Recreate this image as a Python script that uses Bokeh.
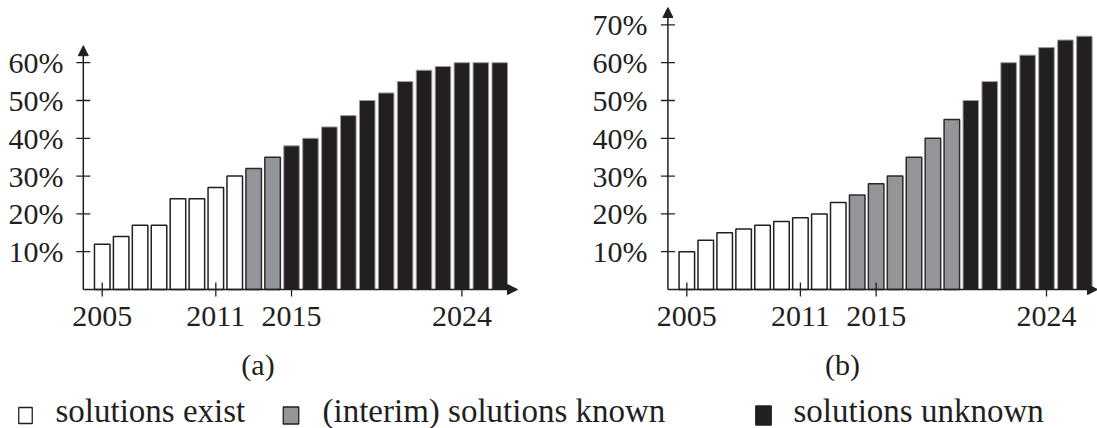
import math
from bokeh.plotting import figure
from bokeh.layouts import column, row
from bokeh.models import Range1d, FixedTicker, Arrow, NormalHead, ColumnDataSource, PrintfTickFormatter
from bokeh.embed import file_html
from bokeh.resources import INLINE
from bokeh.core.properties import value

# ---------------- data ----------------
years = [2005, 2006, 2007, 2008, 2009, 2010, 2011, 2012, 2013, 2014, 2015,
         2016, 2017, 2018, 2019, 2020, 2021, 2022, 2023, 2024, 2025, 2026]
share_a = [12, 14, 17, 17, 24, 24, 27, 30, 32, 35, 38,
           40, 43, 46, 50, 52, 55, 58, 59, 60, 60, 60]
share_b = [10, 13, 15, 16, 17, 18, 19, 20, 23, 25, 28,
           30, 35, 40, 45, 50, 55, 60, 62, 64, 66, 67]
status_a = ["exist", "exist", "exist", "exist", "exist", "exist", "exist", "exist",
            "interim", "interim",
            "unknown", "unknown", "unknown", "unknown", "unknown", "unknown",
            "unknown", "unknown", "unknown", "unknown", "unknown", "unknown"]
status_b = ["exist", "exist", "exist", "exist", "exist", "exist", "exist", "exist", "exist",
            "interim", "interim", "interim", "interim", "interim", "interim",
            "unknown", "unknown", "unknown", "unknown", "unknown", "unknown", "unknown"]
x_ticks = [2005, 2011, 2015, 2024]
y_ticks_a = [10, 20, 30, 40, 50, 60]
y_ticks_b = [10, 20, 30, 40, 50, 60, 70]
statuses = ["exist", "interim", "unknown"]
legend_labels = ["solutions exist", "(interim) solutions known", "solutions unknown"]
captions = ["(a)", "(b)"]

# ---------------- styles / layout ----------------
INK = "#231f20"
FILL = {"exist": "#ffffff", "interim": "#939598", "unknown": "#231f20"}
LINE = {"exist": "#231f20", "interim": "#2b2b2b", "unknown": "#9a9a9a"}
LW = {"exist": 1.5, "interim": 1.5, "unknown": 1.0}
FONT = "Liberation Serif"
PX_PER_PCT = 3.78      # vertical scale
PX_PER_YEAR = 18.93    # horizontal scale
PAD = 8                # frame extends this far beyond the drawn axes
PANEL_H = 344
TOP = 7
AXIS_Y_PX = 289        # pixel row of the x axis
BOTTOM = PANEL_H - (AXIS_Y_PX + PAD)
Y_START = -PAD / PX_PER_PCT
Y_END = (AXIS_Y_PX - TOP) / PX_PER_PCT


def make_panel(vals, stat, left_px, width, axis_x_px, x_tip_px, axis_top_pct, yticks,
               right_px):
    # left_px: page x of figure; axis_x_px: page x of the y axis (year 2004)
    frame_l = int(round(axis_x_px - PAD))
    frame_r = int(right_px)
    x0 = 2004 - (axis_x_px - frame_l) / PX_PER_YEAR
    x1 = 2004 + (frame_r - axis_x_px) / PX_PER_YEAR
    x_tip = 2004 + (x_tip_px - axis_x_px) / PX_PER_YEAR
    p = figure(width=width, height=PANEL_H, x_range=Range1d(x0, x1),
               y_range=Range1d(Y_START, Y_END), output_backend="svg",
               toolbar_location=None, min_border_left=frame_l - left_px,
               min_border_right=left_px + width - frame_r, min_border_top=TOP,
               min_border_bottom=BOTTOM)
    p.outline_line_color = None
    p.xgrid.visible = False
    p.ygrid.visible = False
    p.background_fill_color = None
    src = ColumnDataSource(dict(
        x=years, top=vals,
        fill=[FILL[s] for s in stat],
        line=[LINE[s] for s in stat],
        lw=[LW[s] for s in stat]))
    p.vbar(x="x", top="top", width=0.82, bottom=0, source=src,
           fill_color="fill", line_color="line", line_width="lw")
    for ax in (p.xaxis[0], p.yaxis[0]):
        ax.axis_line_color = None
        ax.major_tick_line_color = None
        ax.major_tick_in = 0
        ax.major_tick_out = 0
        ax.minor_tick_line_color = None
        ax.major_label_text_font = FONT
        ax.major_label_text_font_size = "30px"
        ax.major_label_text_color = INK
    p.xaxis.ticker = FixedTicker(ticks=x_ticks)
    p.xaxis.major_label_standoff = 9
    p.yaxis.ticker = FixedTicker(ticks=yticks)
    p.yaxis.formatter = PrintfTickFormatter(format="%d%%")
    p.yaxis.major_label_standoff = 12
    # tick marks crossing the axes
    p.scatter(x=[2004] * len(yticks), y=yticks, marker="dash", size=14,
              line_color=INK, line_width=1.3)
    p.scatter(x=x_ticks, y=[0] * len(x_ticks), marker="dash", size=14,
              angle=math.pi / 2, line_color=INK, line_width=1.3)
    # axes with arrow heads
    head = dict(size=10, fill_color=INK, line_color=INK, line_width=1)
    p.add_layout(Arrow(end=NormalHead(**head), x_start=2004, y_start=0,
                       x_end=2004, y_end=axis_top_pct, line_color=INK, line_width=1.5))
    p.add_layout(Arrow(end=NormalHead(**head), x_start=2004, y_start=0,
                       x_end=x_tip, y_end=0, line_color=INK, line_width=1.5))
    return p


pa = make_panel(share_a, status_a, 0, 560, 82.8, 517, 64.5, y_ticks_a, 527)
pb = make_panel(share_b, status_b, 560, 537, 667.4, 1097, Y_END, y_ticks_b, 1097)

# ---------------- captions + legend ----------------
LEG_H = 428 - PANEL_H
pl = figure(width=1097, height=LEG_H, x_range=Range1d(0, 1097),
            y_range=Range1d(428, PANEL_H),
            output_backend="svg", toolbar_location=None, x_axis_type=None,
            y_axis_type=None, min_border_left=0, min_border_right=0,
            min_border_top=0, min_border_bottom=0)
pl.outline_line_color = None
pl.xgrid.visible = False
pl.ygrid.visible = False
pl.text(x=[257.5, 842], y=[363.5, 363.5], text=captions, text_align="center",
        text_baseline="middle", text_font=value(FONT), text_font_size=value("30px"),
        text_color=INK)
sw_x = [25, 290.5, 763]
sw_w = [13.5, 15.5, 15.5]
pl.rect(x=sw_x, y=[415, 415, 415], width=sw_w, height=[16, 17, 19],
        fill_color=[FILL[s] for s in statuses],
        line_color=[INK, INK, INK], line_width=1.3)
pl.text(x=[55, 322, 793], y=[410, 410, 410], text=legend_labels,
        text_align="left", text_baseline="middle", text_font=value(FONT),
        text_font_size=value("33px"), text_color=INK)

layout = column(row(pa, pb), pl)
open("out.html", "w").write(file_html(layout, INLINE))
